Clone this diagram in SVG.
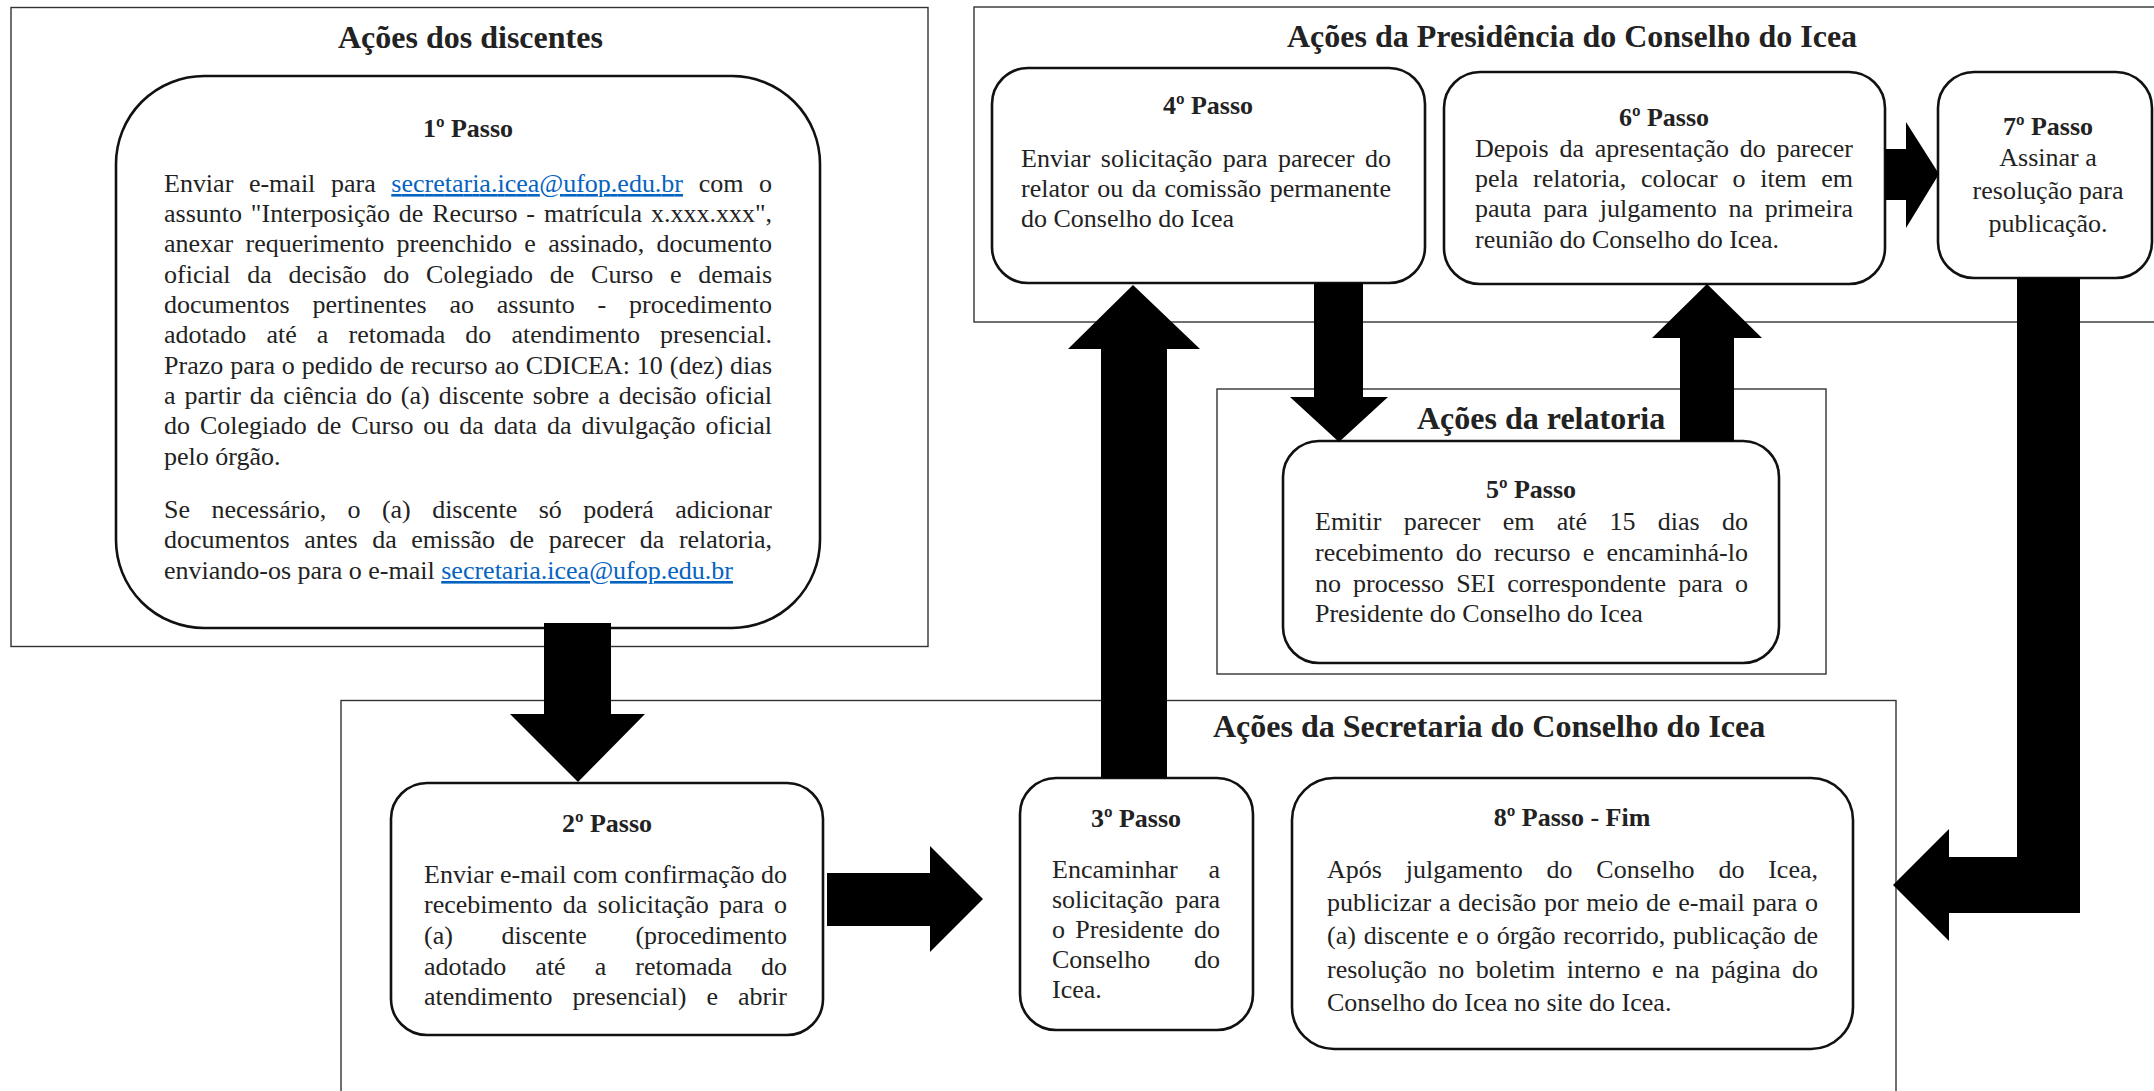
<svg xmlns="http://www.w3.org/2000/svg" width="2154" height="1091" viewBox="0 0 2154 1091">
<style>
.sec{fill:#fff;stroke:#333;stroke-width:1.4}
.node{fill:#fff;stroke:#111;stroke-width:2.6}
.title{font-family:"Liberation Serif","Times New Roman",serif;font-weight:bold;font-size:32px;fill:#222}
.step{font-family:"Liberation Serif","Times New Roman",serif;font-weight:bold;font-size:26px;fill:#222;text-anchor:middle}
.body{font-family:"Liberation Serif","Times New Roman",serif;font-size:26px;fill:#222}
.ctr{text-anchor:middle}
.link{fill:#0563C1;text-decoration:underline}
.arrow{fill:#000;stroke:none}
</style>
<rect width="2154" height="1091" fill="#fff"/>

<g id="sec-discentes">
<rect class="sec" x="11" y="7.5" width="917" height="639"/>
<text class="title" x="338" y="48">Ações dos discentes</text>
</g>
<g id="sec-presidencia">
<rect class="sec" x="974" y="7" width="1300" height="315"/>
<text class="title" x="1287" y="47">Ações da Presidência do Conselho do Icea</text>
</g>
<g id="sec-relatoria">
<rect class="sec" x="1217" y="389" width="609" height="285"/>
<text class="title" x="1417" y="429">Ações da relatoria</text>
</g>
<g id="sec-secretaria">
<rect class="sec" x="341" y="700.5" width="1555" height="500"/>
<text class="title" x="1213" y="737">Ações da Secretaria do Conselho do Icea</text>
</g>

<g id="node-passo1">
<rect class="node" x="116" y="76" width="704" height="552" rx="88" ry="88"/>
<text class="step" x="468" y="137">1º Passo</text>
<text class="body" x="164" y="192" textLength="608" lengthAdjust="spacing" style="word-spacing:9.1px">Enviar e-mail para <tspan class="link">secretaria.icea@ufop.edu.br</tspan> com o</text>
<text class="body" x="164" y="222" textLength="608" lengthAdjust="spacing" style="word-spacing:2.4px">assunto "Interposição de Recurso - matrícula x.xxx.xxx",</text>
<text class="body" x="164" y="252" textLength="608" lengthAdjust="spacing" style="word-spacing:5.8px">anexar requerimento preenchido e assinado, documento</text>
<text class="body" x="164" y="283" textLength="608" lengthAdjust="spacing" style="word-spacing:10.3px">oficial da decisão do Colegiado de Curso e demais</text>
<text class="body" x="164" y="313" textLength="608" lengthAdjust="spacing" style="word-spacing:16.3px">documentos pertinentes ao assunto - procedimento</text>
<text class="body" x="164" y="343" textLength="608" lengthAdjust="spacing" style="word-spacing:13.6px">adotado até a retomada do atendimento presencial.</text>
<text class="body" x="164" y="374" textLength="608" lengthAdjust="spacing" style="word-spacing:0.4px">Prazo para o pedido de recurso ao CDICEA: 10 (dez) dias</text>
<text class="body" x="164" y="404" textLength="608" lengthAdjust="spacing" style="word-spacing:2.5px">a partir da ciência do (a) discente sobre a decisão oficial</text>
<text class="body" x="164" y="434" textLength="608" lengthAdjust="spacing" style="word-spacing:3.4px">do Colegiado de Curso ou da data da divulgação oficial</text>
<text class="body" x="164" y="465">pelo órgão.</text>
<text class="body" x="164" y="518" textLength="608" lengthAdjust="spacing" style="word-spacing:14.9px">Se necessário, o (a) discente só poderá adicionar</text>
<text class="body" x="164" y="548" textLength="608" lengthAdjust="spacing" style="word-spacing:8.1px">documentos antes da emissão de parecer da relatoria,</text>
<text class="body" x="164" y="579">enviando-os para o e-mail <tspan class="link">secretaria.icea@ufop.edu.br</tspan></text>
</g>

<g id="node-passo2">
<rect class="node" x="391" y="783" width="432" height="252" rx="36" ry="36"/>
<text class="step" x="607" y="832">2º Passo</text>
<text class="body" x="424" y="883" textLength="363" lengthAdjust="spacing">Enviar e-mail com confirmação do</text>
<text class="body" x="424" y="913" textLength="363" lengthAdjust="spacing" style="word-spacing:3.75px">recebimento da solicitação para o</text>
<text class="body" x="424" y="944" textLength="363" lengthAdjust="spacing" style="word-spacing:42.2px">(a) discente (procedimento</text>
<text class="body" x="424" y="975" textLength="363" lengthAdjust="spacing" style="word-spacing:22.5px">adotado até a retomada do</text>
<text class="body" x="424" y="1005" textLength="363" lengthAdjust="spacing" style="word-spacing:13.4px">atendimento presencial) e abrir</text>
</g>

<g id="node-passo3">
<rect class="node" x="1020" y="778" width="233" height="252" rx="36" ry="36"/>
<text class="step" x="1136" y="827">3º Passo</text>
<text class="body" x="1052" y="878" textLength="168" lengthAdjust="spacing" style="word-spacing:24.3px">Encaminhar a</text>
<text class="body" x="1052" y="908" textLength="168" lengthAdjust="spacing" style="word-spacing:5.6px">solicitação para</text>
<text class="body" x="1052" y="938" textLength="168" lengthAdjust="spacing" style="word-spacing:3.85px">o Presidente do</text>
<text class="body" x="1052" y="968" textLength="168" lengthAdjust="spacing" style="word-spacing:37.3px">Conselho do</text>
<text class="body" x="1052" y="998">Icea.</text>
</g>

<g id="node-passo4">
<rect class="node" x="992" y="68" width="433" height="215" rx="36" ry="36"/>
<text class="step" x="1208" y="114">4º Passo</text>
<text class="body" x="1021" y="167" textLength="370" lengthAdjust="spacing" style="word-spacing:4px">Enviar solicitação para parecer do</text>
<text class="body" x="1021" y="197" textLength="370" lengthAdjust="spacing" style="word-spacing:1.9px">relator ou da comissão permanente</text>
<text class="body" x="1021" y="227">do Conselho do Icea</text>
</g>

<g id="node-passo5">
<rect class="node" x="1283" y="441" width="496" height="222" rx="36" ry="36"/>
<text class="step" x="1531" y="498">5º Passo</text>
<text class="body" x="1315" y="530" textLength="433" lengthAdjust="spacing" style="word-spacing:15.85px">Emitir parecer em até 15 dias do</text>
<text class="body" x="1315" y="561" textLength="433" lengthAdjust="spacing" style="word-spacing:5.75px">recebimento do recurso e encaminhá-lo</text>
<text class="body" x="1315" y="592" textLength="433" lengthAdjust="spacing" style="word-spacing:5.6px">no processo SEI correspondente para o</text>
<text class="body" x="1315" y="622">Presidente do Conselho do Icea</text>
</g>

<g id="node-passo6">
<rect class="node" x="1444" y="72" width="441" height="212" rx="36" ry="36"/>
<text class="step" x="1664" y="126">6º Passo</text>
<text class="body" x="1475" y="157" textLength="378" lengthAdjust="spacing" style="word-spacing:4.25px">Depois da apresentação do parecer</text>
<text class="body" x="1475" y="187" textLength="378" lengthAdjust="spacing" style="word-spacing:8.3px">pela relatoria, colocar o item em</text>
<text class="body" x="1475" y="217" textLength="378" lengthAdjust="spacing" style="word-spacing:5.3px">pauta para julgamento na primeira</text>
<text class="body" x="1475" y="248">reunião do Conselho do Icea.</text>
</g>

<g id="node-passo7">
<rect class="node" x="1938" y="72" width="214" height="206" rx="36" ry="36"/>
<text class="step" x="2048" y="135">7º Passo</text>
<text class="body ctr" x="2048" y="166">Assinar a</text>
<text class="body ctr" x="2048" y="199">resolução para</text>
<text class="body ctr" x="2048" y="232">publicação.</text>
</g>

<g id="node-passo8">
<rect class="node" x="1292" y="778" width="561" height="271" rx="42" ry="42"/>
<text class="step" x="1572" y="826">8º Passo - Fim</text>
<text class="body" x="1327" y="878" textLength="491" lengthAdjust="spacing" style="word-spacing:17.3px">Após julgamento do Conselho do Icea,</text>
<text class="body" x="1327" y="911" textLength="491" lengthAdjust="spacing" style="word-spacing:1.1px">publicizar a decisão por meio de e-mail para o</text>
<text class="body" x="1327" y="944" textLength="491" lengthAdjust="spacing" style="word-spacing:1.24px">(a) discente e o órgão recorrido, publicação de</text>
<text class="body" x="1327" y="978" textLength="491" lengthAdjust="spacing" style="word-spacing:5px">resolução no boletim interno e na página do</text>
<text class="body" x="1327" y="1011">Conselho do Icea no site do Icea.</text>
</g>

<g id="connectors">
<polygon class="arrow" points="544,623 611,623 611,714 645,714 578,782 510,714 544,714"/>
<polygon class="arrow" points="827,873 930,873 930,846 983,899 930,952 930,926 827,926"/>
<polygon class="arrow" points="1101,778 1101,349 1068,349 1133,285 1200,349 1167,349 1167,778"/>
<polygon class="arrow" points="1314,283 1363,283 1363,397 1388,397 1339,442 1290,397 1314,397"/>
<polygon class="arrow" points="1680,441 1680,338 1652,338 1707,284 1762,338 1734,338 1734,441"/>
<polygon class="arrow" points="1885,149 1906,149 1906,122 1939,174 1906,228 1906,200 1885,200"/>
<polygon class="arrow" points="2017,278 2080,278 2080,913 1949,913 1949,941 1893,885 1949,829 1949,857 2017,857"/>
</g>
</svg>
